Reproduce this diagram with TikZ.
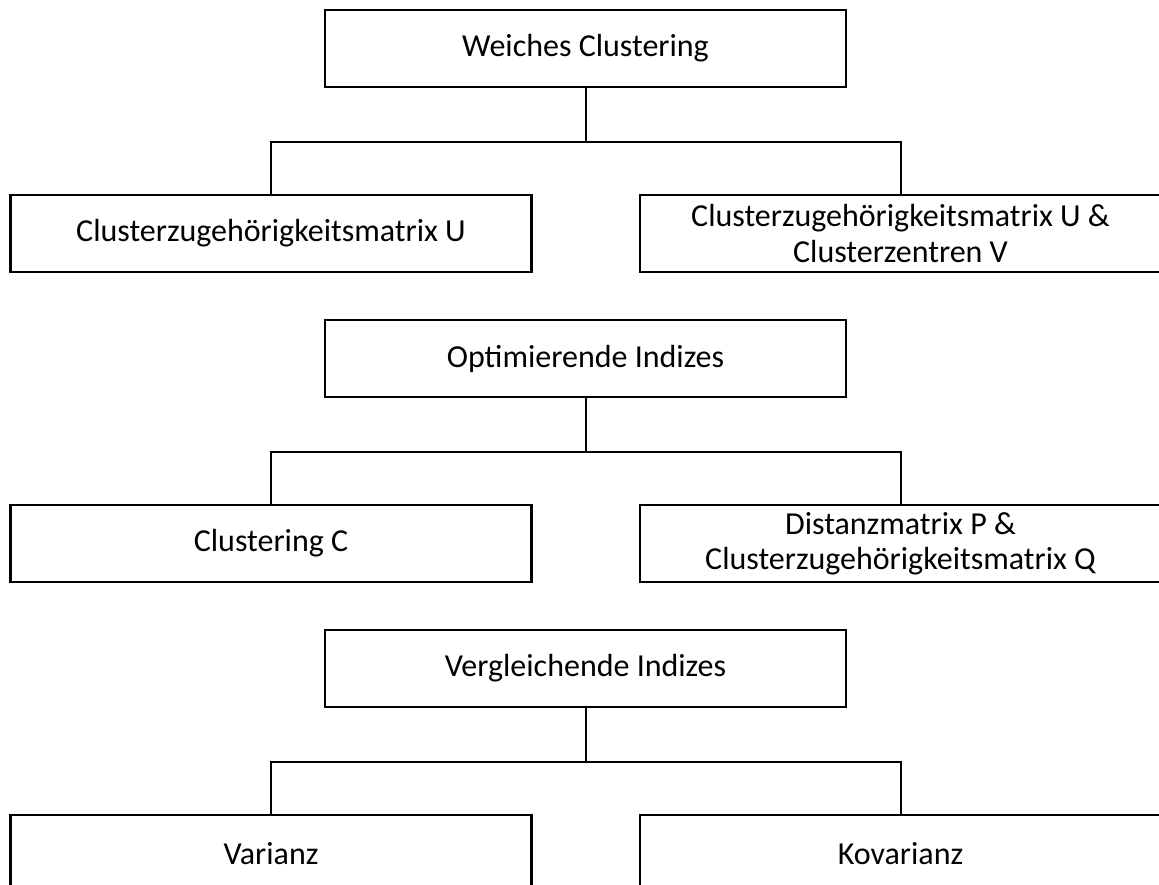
\documentclass[tikz,border=0pt]{standalone}
\usepackage{fontspec}
\setmainfont{Carlito}
\begin{document}
\begin{tikzpicture}[x=1pt,y=1pt,
  box/.style={draw=black, line width=2.6pt, minimum width=521pt, minimum height=77pt,
    inner sep=0pt, align=center, font=\fontsize{32}{35.5}\selectfont},
  link/.style={draw=black, line width=2pt}]
\useasboundingbox (0,0) rectangle (1159,-885);
\clip (0,0) rectangle (1159,-885);
\foreach \r/\tt/\lt/\rt in {0/{Weiches Clustering}/{Clusterzugehörigkeitsmatrix U}/{Clusterzugehörigkeitsmatrix U \&\\Clusterzentren V},
  1/{Optimierende Indizes}/{Clustering C}/{Distanzmatrix P \&\\Clusterzugehörigkeitsmatrix Q},
  2/{Vergleichende Indizes}/{Varianz}/{Kovarianz}}{
  \node[box] (t\r) at (585.5,{-48.5-310*\r}) {\tt};
  \node[box] (l\r) at (271,{-233.5-310*\r}) {\lt};
  \node[box] (r\r) at (900.5,{-233.5-310*\r}) {\rt};
  \coordinate (j\r) at (585.5,{-142-310*\r});
  \draw[link] (t\r.south) -- (j\r) -| (l\r.north);
  \draw[link] (j\r) -| (r\r.north);
}
\end{tikzpicture}
\end{document}
